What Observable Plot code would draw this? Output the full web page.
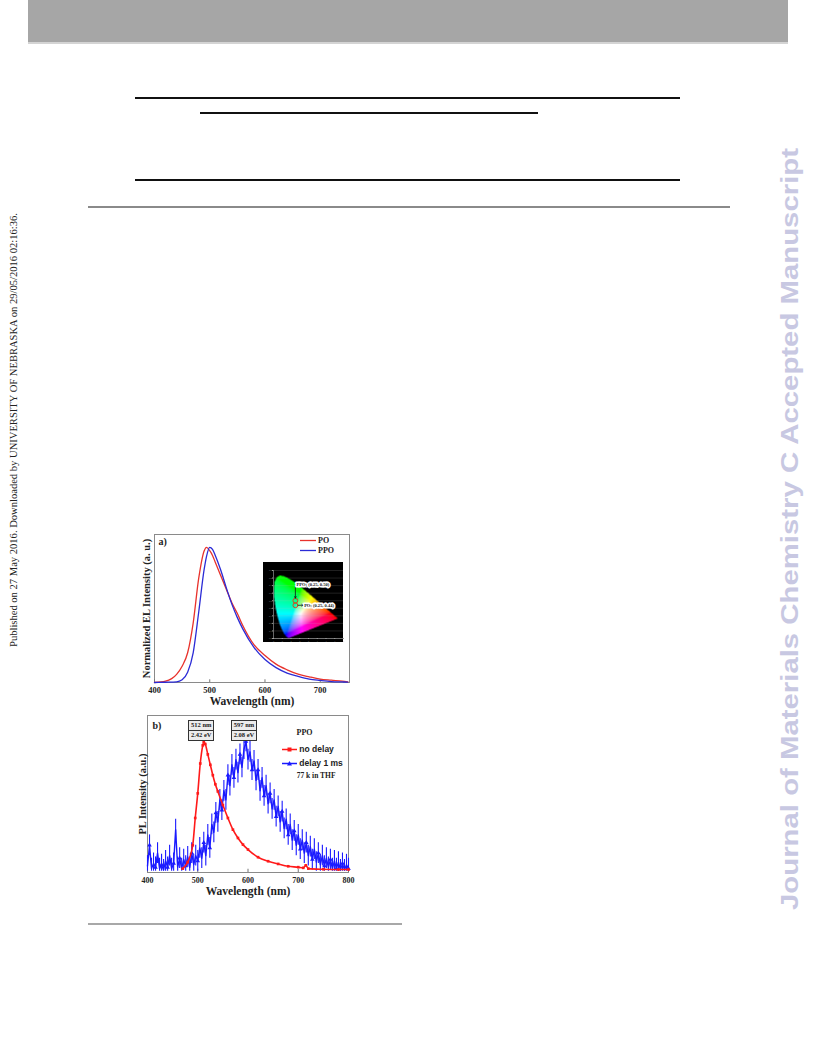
<!DOCTYPE html>
<html><head><meta charset="utf-8">
<script src="https://cdn.jsdelivr.net/npm/d3@7"></script>
<script src="https://cdn.jsdelivr.net/npm/@observablehq/plot@0.6"></script>
<style>
body{margin:0;background:#fff;}
#page{position:relative;width:816px;height:1056px;overflow:hidden;font-family:"Liberation Serif",serif;}
.abs{position:absolute;}
</style></head>
<body><div id="page"></div>
<script>
// ---------------- DATA ----------------
// (a) normalized EL spectra
const elWavelength = [400,420,440,450,460,470,480,490,494,500,505,510,520,530,540,550,560,580,600,620,640,660,680,700,720,740,750];
const elPO  = [0,0.01,0.06,0.12,0.22,0.44,0.77,0.975,1.0,0.975,0.94,0.89,0.79,0.69,0.59,0.51,0.42,0.28,0.20,0.136,0.094,0.062,0.042,0.025,0.017,0.01,0.005];
const elPPO = [0,0.002,0.005,0.02,0.075,0.22,0.52,0.84,0.93,1.0,0.985,0.94,0.83,0.70,0.58,0.48,0.395,0.26,0.17,0.11,0.07,0.045,0.025,0.015,0.007,0.004,0.003];
const elSeries = ["PO", "PPO"];
const elColors = ["#e8322c", "#2b2bd6"];
const elTicks = [400, 500, 600, 700];

// CIE inset
const cieLocusX = [0.1741,0.1714,0.1644,0.1440,0.1241,0.1096,0.0913,0.0687,0.0454,0.0235,0.0082,0.0039,0.0139,0.0389,0.0743,0.1142,0.1547,0.2296,0.3016,0.3731,0.4441,0.5125,0.5752,0.6270,0.6915,0.7190,0.7347];
const cieLocusY = [0.0050,0.0051,0.0109,0.0297,0.0578,0.0868,0.1327,0.2007,0.2950,0.4127,0.5384,0.6548,0.7502,0.8120,0.8338,0.8262,0.8059,0.7543,0.6923,0.6245,0.5547,0.4866,0.4242,0.3725,0.3083,0.2809,0.2653];
const cieTicksX = [0,0.1,0.2,0.3,0.4,0.5,0.6,0.7,0.8];
const cieTicksY = [0,0.1,0.2,0.3,0.4,0.5,0.6,0.7,0.8,0.9];
const ciePointNames = ["PPO", "PO"];
const ciePointX = [0.25, 0.25];
const ciePointY = [0.50, 0.44];
const cieLabels = ["PPO: (0.25, 0.50)", "PO: (0.25, 0.44)"];

// (b) PL spectra, PPO, 77 K in THF
const plWlNoDelay = [470,480,490,495,500,505,510,512,515,520,525,530,535,540,550,560,570,580,590,600,620,640,660,680,700,710,715,720,750,780,800];
const plNoDelay   = [0.02,0.07,0.2,0.41,0.6,0.83,0.97,1.0,0.98,0.9,0.82,0.74,0.67,0.615,0.51,0.41,0.32,0.256,0.205,0.167,0.108,0.077,0.056,0.038,0.031,0.026,0.045,0.02,0.015,0.013,0.013];
const plWlDelay = [400,404,408,412,416,420,424,428,432,436,440,444,448,452,456,460,464,468,472,476,480,484,488,492,496,500,504,508,512,516,520,524,528,532,536,540,544,548,552,556,560,564,568,572,576,580,584,588,592,596,600,604,608,612,616,620,624,628,632,636,640,644,648,652,656,660,664,668,672,676,680,684,688,692,696,700,704,708,712,716,720,724,728,732,736,740,744,748,752,756,760,764,768,772,776,780,784,788,792,796,800];
const plDelay = [0.04,0.20,0.02,0.06,0.03,0.14,0.02,0.05,0.01,0.08,0.03,0.12,0.02,0.06,0.32,0.03,0.10,0.02,0.09,0.04,0.11,0.03,0.14,0.05,0.12,0.08,0.18,0.10,0.22,0.12,0.28,0.18,0.36,0.30,0.45,0.38,0.55,0.47,0.62,0.55,0.74,0.66,0.82,0.72,0.86,0.76,0.90,0.80,0.94,1.0,0.86,0.92,0.78,0.85,0.70,0.78,0.62,0.72,0.58,0.66,0.52,0.60,0.48,0.55,0.42,0.50,0.38,0.46,0.33,0.40,0.28,0.36,0.24,0.31,0.20,0.28,0.17,0.24,0.14,0.22,0.12,0.19,0.09,0.17,0.07,0.14,0.05,0.12,0.04,0.10,0.03,0.09,0.02,0.08,0.02,0.07,0.01,0.06,0.01,0.05,0.02];
const plDelayErr = 0.08; // half-height of the vertical error bars on the delayed spectrum
const plTicks = [400, 500, 600, 700, 800];
const plSeries = ["no delay", "delay 1 ms"];
const plColors = ["#ff1a1a", "#1a1aff"];
const plPeakNm = [512, 597];
const plPeakLabel = ["512 nm", "597 nm"];
const plPeakEv = ["2.42 eV", "2.08 eV"];

// ---------------- PAGE ----------------
const page = document.getElementById("page");
function div(style, html) { const d = document.createElement("div"); d.className = "abs"; d.setAttribute("style", style); if (html) d.innerHTML = html; page.appendChild(d); return d; }

div("left:28px;top:0;width:760px;height:42px;background:#a6a6a6;border-bottom:2px solid #d4d4d4;");
div("left:135px;top:97px;width:545px;height:2px;background:#111;");
div("left:200px;top:112px;width:338px;height:2px;background:#111;");
div("left:135px;top:179px;width:545px;height:2px;background:#111;");
div("left:88px;top:206px;width:642px;height:2px;background:#8a8a8a;");
div("left:88px;top:923px;width:314px;height:2px;background:#a8a8a8;");

const ns = "http://www.w3.org/2000/svg";
const deco = document.createElementNS(ns, "svg");
deco.setAttribute("width", 816); deco.setAttribute("height", 1056);
deco.setAttribute("style", "position:absolute;left:0;top:0;");
deco.innerHTML = `
<text transform="translate(13,430) rotate(-90)" text-anchor="middle" dominant-baseline="central" font-family="Liberation Serif" font-size="10" textLength="434" lengthAdjust="spacingAndGlyphs" fill="#222">Published on 27 May 2016. Downloaded by UNIVERSITY OF NEBRASKA on 29/05/2016 02:16:36.</text>
<text transform="translate(789,529) rotate(-90)" text-anchor="middle" dominant-baseline="central" font-family="Liberation Sans" font-weight="bold" font-size="24" textLength="762" lengthAdjust="spacingAndGlyphs" fill="#c8c8e2">Journal of Materials Chemistry C Accepted Manuscript</text>`;
page.appendChild(deco);

const serif = "Liberation Serif";

// ---------------- CHART A ----------------
const elData = elSeries.flatMap((s, k) => elWavelength.map((w, i) => ({series: s, wl: w, v: (k ? elPPO : elPO)[i]})));
const A = {left: 124, top: 526};
const chartA = Plot.plot({
  width: 236, height: 184, marginLeft: 30, marginRight: 11, marginTop: 8, marginBottom: 28,
  x: {domain: [400, 753], axis: null},
  y: {domain: [0, 1.095], axis: null},
  color: {domain: elSeries, range: elColors},
  style: {fontFamily: serif, background: "transparent", overflow: "visible", color: "#222"},
  marks: [
    Plot.frame({stroke: "#8a8a8a"}),
    Plot.axisX(elTicks, {tickSize: 0, tickPadding: 4, fontSize: 8.5, fontWeight: "bold", label: null}),
    Plot.ruleX(elTicks, {y1: 0, y2: 0.02, stroke: "#777"}),
    Plot.line(elData, {x: "wl", y: "v", stroke: "series", strokeWidth: 1.3, curve: "monotone-x"}),
    Plot.text(["Normalized EL Intensity (a. u.)"], {frameAnchor: "left", rotate: -90, textAnchor: "middle", lineAnchor: "middle", dx: -8, fontSize: 10.5, fontWeight: "bold", fill: "#222"}),
    Plot.text(["Wavelength (nm)"], {frameAnchor: "bottom", lineAnchor: "middle", textAnchor: "middle", dy: 18.5, fontSize: 11.5, fontWeight: "bold", fill: "#222"}),
    Plot.text(["a)"], {frameAnchor: "top-left", dx: 4, dy: 3, fontSize: 10, fontWeight: "bold", fill: "#222"})
  ]
});
chartA.setAttribute("style", (chartA.getAttribute("style") || "") + `;position:absolute;left:${A.left}px;top:${A.top}px;`);
page.appendChild(chartA);

// legend a
elSeries.forEach((s, i) => {
  div(`left:300px;top:${536 + i * 9.5}px;width:60px;height:9px;font:bold 8px ${serif};color:#222;line-height:9px;`,
    `<svg width="16" height="9" style="vertical-align:top"><line x1="0" x2="16" y1="4.5" y2="4.5" stroke="${elColors[i]}" stroke-width="1.3"/></svg> ${s}`);
});

// CIE inset
const locus = cieLocusX.map((x, i) => [x, cieLocusY[i]]);
function chromaColor(x, y) {
  if (y <= 0 || !d3.polygonContains(locus, [x, y])) return null;
  const X = x / y, Y = 1, Z = (1 - x - y) / y;
  let r = 3.2406 * X - 1.5372 * Y - 0.4986 * Z;
  let g = -0.9689 * X + 1.8758 * Y + 0.0415 * Z;
  let b = 0.0557 * X - 0.2040 * Y + 1.0570 * Z;
  r = Math.max(r, 0); g = Math.max(g, 0); b = Math.max(b, 0);
  const m = Math.max(r, g, b) || 1;
  const gam = v => v <= 0.0031308 ? 12.92 * v : 1.055 * Math.pow(v, 1 / 2.4) - 0.055;
  return `rgb(${Math.round(gam(r / m) * 255)},${Math.round(gam(g / m) * 255)},${Math.round(gam(b / m) * 255)})`;
}
const ciePts = ciePointNames.map((n, i) => ({name: n, x: ciePointX[i], y: ciePointY[i], label: cieLabels[i]}));
const insetMarks = [
  Plot.gridY(cieTicksY, {stroke: "#bbb", strokeOpacity: 0.35, strokeWidth: 0.5}),
  Plot.axisX(cieTicksX, {tickSize: 1, tickPadding: 0.5, fontSize: 2.5, fill: "#999", stroke: "#999", label: null}),
  Plot.axisY(cieTicksY, {tickSize: 1, tickPadding: 0.5, fontSize: 2.5, fill: "#999", stroke: "#999", label: null}),
  Plot.ruleX([0], {stroke: "#aaa", strokeWidth: 0.6}),
  Plot.ruleY([0], {stroke: "#aaa", strokeWidth: 0.6}),
  Plot.dot(ciePts, {x: "x", y: "y", r: 2.4, stroke: "#e0401c", strokeWidth: 1}),
  Plot.arrow([ciePts[0]], {x1: "x", y1: d => d.y + 0.2, x2: "x", y2: d => d.y + 0.035, stroke: "#111", strokeWidth: 0.8, headLength: 3}),
  Plot.arrow([ciePts[1]], {x1: d => d.x + 0.03, y1: "y", x2: d => d.x + 0.09, y2: "y", stroke: "#111", strokeWidth: 0.8, headLength: 3}),
  Plot.text([ciePts[0]], {x: d => d.x + 0.2, y: d => d.y + 0.22, text: "label", fontSize: 4.5, fontWeight: "bold", fill: "#111", stroke: "white", strokeWidth: 3.2}),
  Plot.text([ciePts[1]], {x: d => d.x + 0.1, y: "y", text: "label", textAnchor: "start", fontSize: 4.5, fontWeight: "bold", fill: "#111", stroke: "white", strokeWidth: 3.2})
];
let rasterMark = null;
try { rasterMark = Plot.raster({x1: 0, x2: 0.8, y1: 0, y2: 0.9, fill: chromaColor, pixelSize: 0.5}); } catch (e) { rasterMark = null; }
const insetOpts = {
  width: 80, height: 80, marginLeft: 10, marginRight: 0, marginTop: 8, marginBottom: 4,
  x: {domain: [0, 0.8], axis: null}, y: {domain: [0, 0.9], axis: null},
  color: {type: "identity"},
  style: {fontFamily: serif, background: "black", overflow: "visible"}
};
let inset;
try {
  inset = Plot.plot({...insetOpts, marks: [rasterMark, ...insetMarks].filter(Boolean)});
} catch (e) {
  inset = Plot.plot({...insetOpts, marks: [Plot.area(locus, {x: d => d[0], y: d => d[1], fill: "#6c6"}), ...insetMarks]});
}
inset.setAttribute("style", (inset.getAttribute("style") || "") + ";position:absolute;left:263px;top:562px;background:black;");
page.appendChild(inset);

// ---------------- CHART B ----------------
const B = {left: 124, top: 705};
const redData = plWlNoDelay.map((w, i) => ({wl: w, v: plNoDelay[i]}));
const blueData = plWlDelay.map((w, i) => ({wl: w, v: plDelay[i], i}));
const chartB = Plot.plot({
  width: 236, height: 200, marginLeft: 23, marginRight: 12, marginTop: 10, marginBottom: 33,
  x: {domain: [400, 800], axis: null},
  y: {domain: [-0.01, 1.2], axis: null},
  style: {fontFamily: serif, background: "transparent", overflow: "visible", color: "#222"},
  marks: [
    Plot.frame({stroke: "#8a8a8a"}),
    Plot.axisX(plTicks, {tickSize: 0, tickPadding: 5, fontSize: 8, fontWeight: "bold", label: null}),
    Plot.ruleX(plTicks, {y1: -0.01, y2: 0.015, stroke: "#777"}),
    Plot.ruleX(blueData, {x: "wl", y1: d => Math.max(0, d.v - plDelayErr), y2: d => d.v + plDelayErr, stroke: plColors[1], strokeWidth: 1.1}),
    Plot.line(blueData, {x: "wl", y: "v", stroke: plColors[1], strokeWidth: 1.4}),
    Plot.dot(blueData.filter(d => d.i % 3 === 1), {x: "wl", y: "v", symbol: "triangle", r: 1.7, fill: plColors[1]}),
    Plot.line(redData, {x: "wl", y: "v", stroke: plColors[0], strokeWidth: 1.6, curve: "monotone-x"}),
    Plot.dot(redData, {x: "wl", y: "v", symbol: "square", r: 1.5, fill: plColors[0]}),
    Plot.text(["PL Intensity (a.u.)"], {frameAnchor: "left", rotate: -90, textAnchor: "middle", lineAnchor: "middle", dx: -5, fontSize: 10.5, fontWeight: "bold", fill: "#222"}),
    Plot.text(["Wavelength (nm)"], {frameAnchor: "bottom", lineAnchor: "middle", textAnchor: "middle", dy: 18.5, fontSize: 11.5, fontWeight: "bold", fill: "#222"}),
    Plot.text(["b)"], {frameAnchor: "top-left", dx: 5, dy: 6, fontSize: 10, fontWeight: "bold", fill: "#222"}),
    Plot.text(["PPO"], {frameAnchor: "top-right", dx: -36, dy: 14, fontSize: 8, fontWeight: "bold", fill: "#222"}),
    Plot.text(["77 k in THF"], {frameAnchor: "top-right", dx: -13, dy: 57, fontSize: 7.5, fontWeight: "bold", fill: "#222"})
  ]
});
chartB.setAttribute("style", (chartB.getAttribute("style") || "") + `;position:absolute;left:${B.left}px;top:${B.top}px;`);
page.appendChild(chartB);

// peak annotation boxes positioned through chart B's x scale
const sxB = chartB.scale("x");
const boxStyle = `border:1px solid #333;background:#ececec;font:bold 6.5px ${serif};color:#222;text-align:center;line-height:8.5px;box-sizing:border-box;white-space:nowrap;`;
plPeakNm.forEach((nm, i) => {
  const cx = B.left + sxB.apply(nm) - 2;
  div(`left:${cx - 13}px;top:720px;width:26px;height:10.5px;${boxStyle}`, plPeakLabel[i]);
  div(`left:${cx - 13}px;top:730px;width:26px;height:10.5px;${boxStyle}`, plPeakEv[i]);
});

// legend b
plSeries.forEach((s, i) => {
  const sym = i === 0
    ? `<rect x="5.5" y="2.5" width="4" height="4" fill="${plColors[0]}"/>`
    : `<path d="M7.5,2 L10,6.5 L5,6.5 Z" fill="${plColors[1]}"/>`;
  div(`left:282px;top:${745 + i * 13.5}px;width:80px;height:10px;font:bold 8.5px 'Liberation Sans',sans-serif;color:#222;line-height:9px;`,
    `<svg width="15" height="9" style="vertical-align:top"><line x1="0" x2="15" y1="4.5" y2="4.5" stroke="${plColors[i]}" stroke-width="1.5"/>${sym}</svg> ${s}`);
});
</script></body></html>
